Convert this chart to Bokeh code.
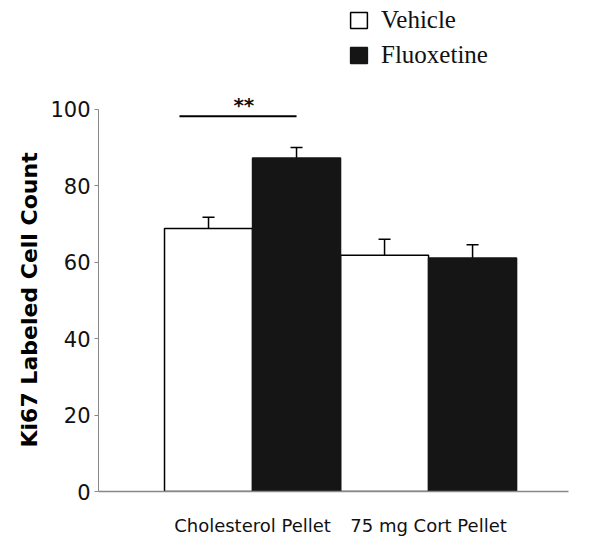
from bokeh.plotting import figure
from bokeh.models import (Range1d, FixedTicker, Legend, LegendItem, Whisker,
                          ColumnDataSource, TeeHead, Title)
from bokeh.core.properties import value
from bokeh.embed import file_html
from bokeh.resources import INLINE

# ---- data ----
groups = ["Cholesterol Pellet", "75 mg Cort Pellet"]
vehicle_mean = [68.8, 61.8]
vehicle_err = [3.0, 4.2]
fluox_mean = [87.3, 61.1]
fluox_err = [2.7, 3.5]
y_ticks = [0, 20, 40, 60, 80, 100]
y_title = "Ki67 Labeled Cell Count"
sig_label = "**"
sig_span = [0.92, 2.25]   # bracket extent (x, data units)
sig_level = 98.2          # bracket height (y, data units)

# ---- layout in data units ----
group_pos = [1.75 + 2.0 * i for i in range(len(groups))]
veh_x = [g - 0.5 for g in group_pos]
flu_x = [g + 0.5 for g in group_pos]

p = figure(width=600, height=539, output_backend="svg", toolbar_location=None,
           x_range=Range1d(0, 5.34), y_range=Range1d(0, 128.5),
           min_border_left=98, min_border_right=32, min_border_top=0, min_border_bottom=48)
p.outline_line_color = None
p.xgrid.visible = False
p.ygrid.visible = False
p.background_fill_color = "white"

veh_src = ColumnDataSource(dict(x=veh_x, top=vehicle_mean,
                                up=[m + e for m, e in zip(vehicle_mean, vehicle_err)]))
flu_src = ColumnDataSource(dict(x=flu_x, top=fluox_mean,
                                up=[m + e for m, e in zip(fluox_mean, fluox_err)]))

r_veh = p.vbar(x="x", top="top", bottom=0, width=1.0, source=veh_src,
               fill_color="white", line_color="black", line_width=1.5)
r_flu = p.vbar(x="x", top="top", bottom=0, width=1.0, source=flu_src,
               fill_color="#151515", line_color="#151515", line_width=1.5)

for src in (veh_src, flu_src):
    w = Whisker(base="x", lower="top", upper="up", source=src, dimension="height",
                line_color="black", line_width=1.5,
                upper_head=TeeHead(size=12, line_color="black", line_width=1.5),
                lower_head=None)
    p.add_layout(w)

# significance bracket
p.segment(x0=[sig_span[0]], x1=[sig_span[1]], y0=[sig_level], y1=[sig_level],
          line_color="black", line_width=2)
p.text(x=[sig_span[0] + 0.55 * (sig_span[1] - sig_span[0])], y=[sig_level - 0.3],
       text=[sig_label], text_font=value("DejaVu Sans"), text_font_style="bold",
       text_font_size="20px", text_align="center", text_baseline="bottom",
       text_color="#111111")

# axes
ya = p.yaxis[0]
ya.ticker = FixedTicker(ticks=y_ticks)
ya.bounds = (0, 100)
ya.axis_line_color = "#888888"
ya.axis_line_width = 1
ya.major_tick_line_color = "#888888"
ya.major_tick_out = 4
ya.major_tick_in = 0
ya.minor_tick_line_color = None
ya.major_label_text_font = "DejaVu Sans"
ya.major_label_text_font_size = "21px"
ya.major_label_text_color = "#111111"
ya.major_label_standoff = 4

# y title: side title, started just above the axis origin so it is centred on 0..100
p.add_layout(Title(text=y_title, align="left", offset=44, standoff=11,
                   text_font="DejaVu Sans", text_font_style="bold",
                   text_font_size="22px", text_color="black"), "left")

xa = p.xaxis[0]
xa.ticker = FixedTicker(ticks=group_pos)
xa.major_label_overrides = {g: lab for g, lab in zip(group_pos, groups)}
xa.axis_line_color = "#888888"
xa.axis_line_width = 1.5
xa.major_tick_line_color = None
xa.minor_tick_line_color = None
xa.major_label_text_font = "DejaVu Sans"
xa.major_label_text_font_size = "18px"
xa.major_label_text_color = "#111111"
xa.major_label_standoff = 17

legend = Legend(items=[LegendItem(label="Vehicle", renderers=[r_veh]),
                       LegendItem(label="Fluoxetine", renderers=[r_flu])],
                location=(250, 422), orientation="vertical")
legend.label_text_font = "Liberation Serif"
legend.label_text_font_size = "25px"
legend.label_text_color = "#111111"
legend.glyph_width = 21
legend.glyph_height = 20
legend.label_height = 20
legend.spacing = 7
legend.label_standoff = 12
legend.padding = 0
legend.margin = 0
legend.border_line_color = None
legend.background_fill_alpha = 0
p.add_layout(legend)

open("out.html", "w").write(file_html(p, INLINE))
